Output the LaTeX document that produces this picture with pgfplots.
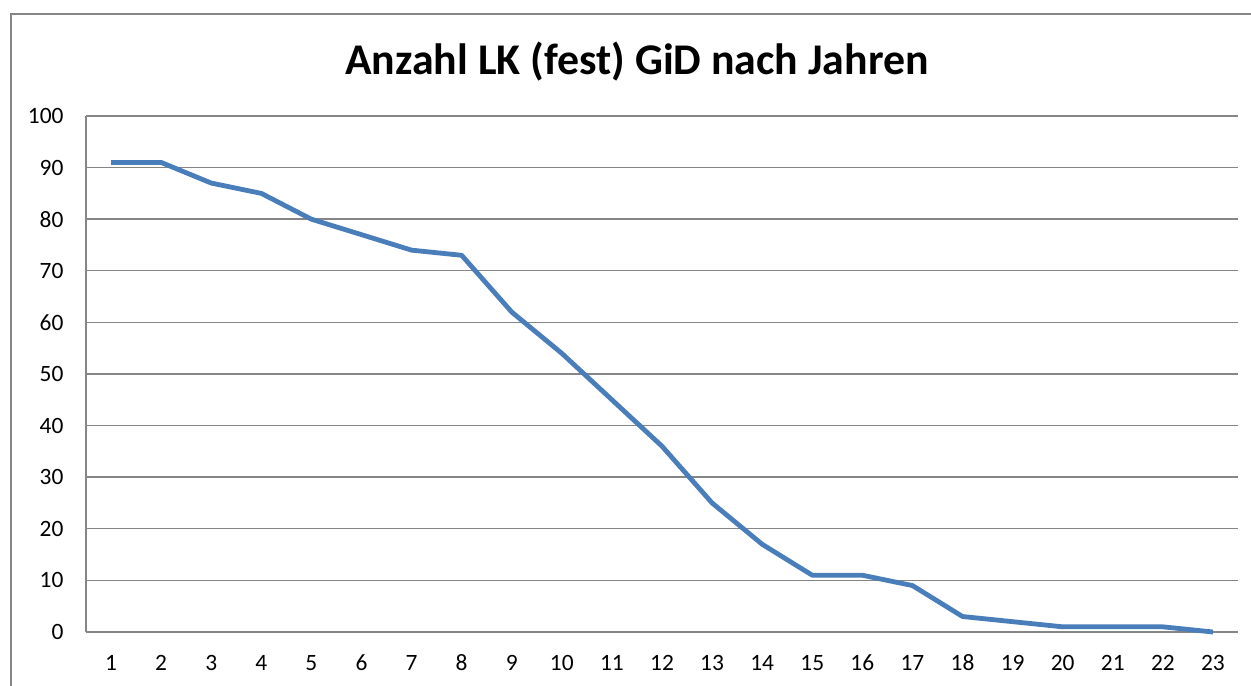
\documentclass[border=0pt]{standalone}
\usepackage{fontspec}
\setmainfont{Carlito}
\usepackage{pgfplots}
\pgfplotsset{compat=1.18}
\definecolor{linecol}{RGB}{74,126,187}
\definecolor{gridcol}{RGB}{134,134,134}
\begin{document}
\begin{tikzpicture}[x=1bp,y=1bp]
\useasboundingbox (0,0) rectangle (1251,686);
\draw[color=gridcol, line width=2bp] (11,-2) -- (11,672) -- (1252,672);
\node[anchor=base, font=\fontsize{44}{48}\selectfont\bfseries] at (637,611) {Anzahl LK (fest) GiD nach Jahren};
\begin{axis}[
  at={(86bp,54bp)}, anchor=south west,
  scale only axis, width=1152bp, height=516bp,
  xmin=0.5, xmax=23.5, ymin=0, ymax=100,
  xtick={1,...,23}, ytick={0,10,...,100},
  xticklabels={1,2,3,4,5,6,7,8,9,10,11,12,13,14,15,16,17,18,19,20,21,22,23},
  major tick length=0pt,
  separate axis lines,
  axis x line*=bottom, axis y line*=left,
  axis line style={-, color=gridcol, line width=2bp},
  ymajorgrids,
  grid style={color=gridcol, line width=1.4bp},
  tick label style={font=\fontsize{23.5}{27}\selectfont},
  /pgf/number format/assume math mode=true,
  yticklabel style={xshift=-19bp},
  xticklabel style={anchor=base, yshift=-39bp},
  clip=false,
]
\addplot[color=linecol, line width=4.8bp, line join=round] coordinates {
(1,91) (2,91) (3,87) (4,85) (5,80) (6,77) (7,74) (8,73) (9,62) (10,54) (11,45) (12,36)
(13,25) (14,17) (15,11) (16,11) (17,9) (18,3) (19,2) (20,1) (21,1) (22,1) (23,0)
};
\end{axis}
\end{tikzpicture}
\end{document}
